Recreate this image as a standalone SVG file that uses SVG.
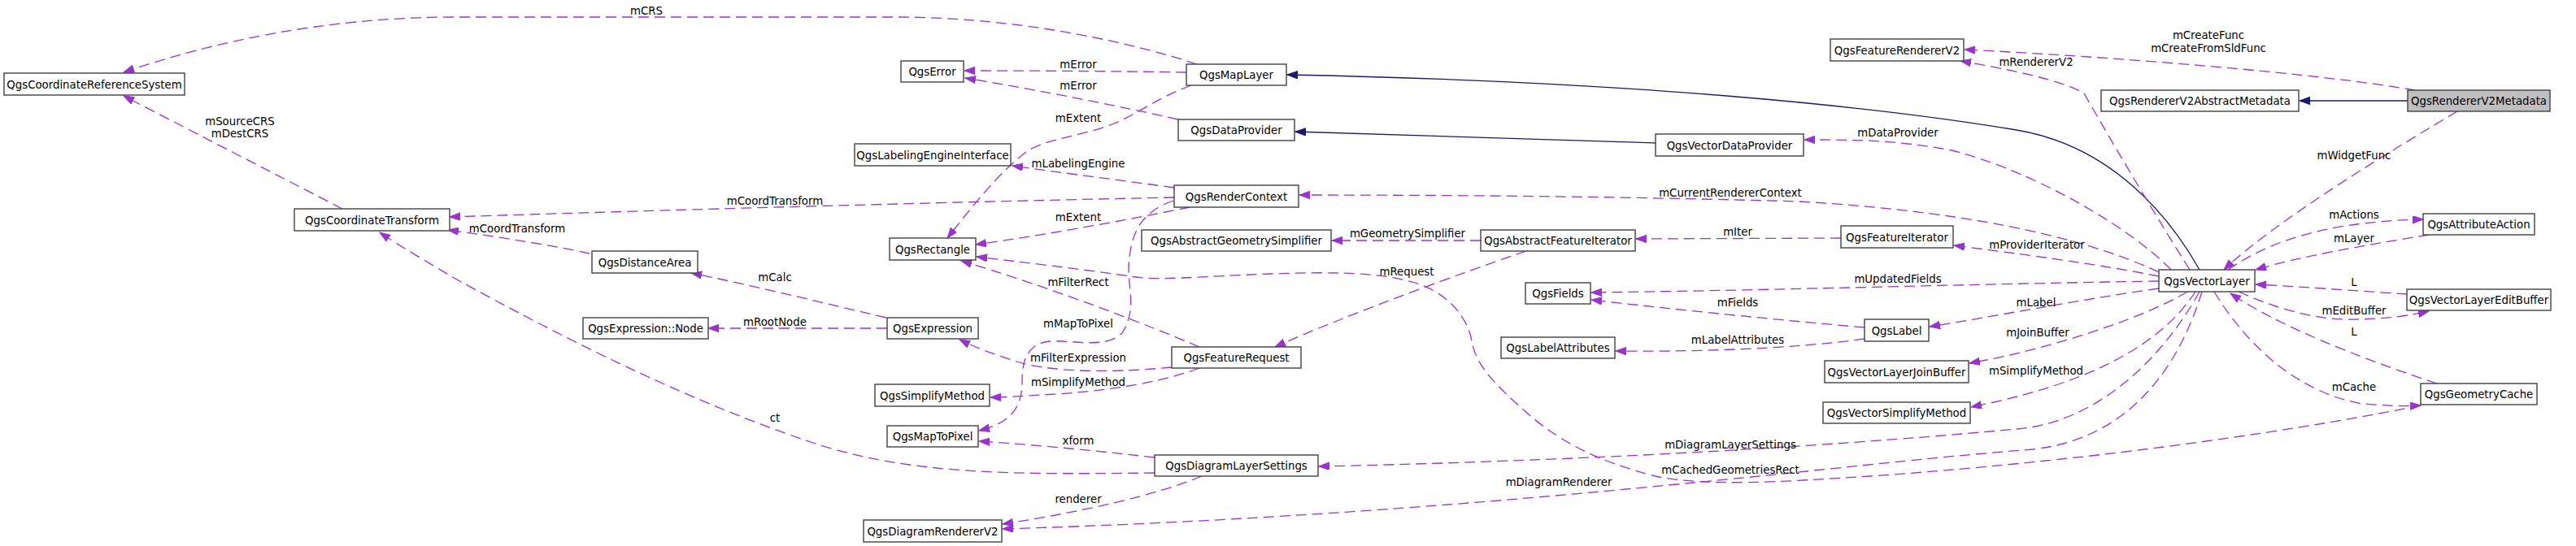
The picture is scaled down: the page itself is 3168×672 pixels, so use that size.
<svg xmlns="http://www.w3.org/2000/svg" width="3168" height="672" viewBox="0 0 3168 672">
<defs>
<marker id="ap" markerWidth="14" markerHeight="10" refX="13" refY="4.7" orient="auto" markerUnits="userSpaceOnUse"><path d="M0,0 L13,4.7 L0,9.4 z" fill="#9a32cd" stroke="#9a32cd" stroke-width="1"/></marker>
<marker id="an" markerWidth="14" markerHeight="10" refX="13" refY="4.7" orient="auto" markerUnits="userSpaceOnUse"><path d="M0,0 L13,4.7 L0,9.4 z" fill="#191970" stroke="#191970" stroke-width="1"/></marker>
<style>
.n rect{fill:#fff;stroke:#404040;stroke-width:1.4}
.n text,.l{font-family:"DejaVu Sans",Verdana,sans-serif;font-size:13.3px;fill:#000;text-anchor:middle}
.u{fill:none;stroke:#9a32cd;stroke-width:1.3;stroke-dasharray:13,7;marker-end:url(#ap)}
.i{fill:none;stroke:#191970;stroke-width:1.3;marker-end:url(#an)}
</style>
</defs>
<rect width="3168" height="672" fill="#fff"/>
<g id="edges">
<path class="u" d="M1472,79 C1400,55 1260,21 1100,21 L560,21 C400,21 260,52 152,89"/>
<path class="u" d="M421,257 L152,118"/>
<path class="u" d="M1459,89 C1400,88 1300,87 1186,87"/>
<path class="u" d="M1449,147 C1350,125 1260,108 1187,96"/>
<path class="u" d="M1465,105 C1420,122 1400,140 1370,152 C1330,168 1290,170 1265,185 C1230,210 1195,255 1165,293"/>
<path class="u" d="M1444,231 C1380,222 1300,212 1245,204"/>
<path class="u" d="M1444,243 C1200,248 900,256 553,267"/>
<path class="u" d="M1463,255 C1380,272 1280,290 1200,301"/>
<path class="u" d="M1443,247 C1400,262 1390,290 1388,330 C1388,360 1398,380 1380,410 C1360,430 1320,418 1290,420 C1262,424 1257,445 1257,470 C1257,500 1245,520 1204,530"/>
<path class="u" d="M1821,296 L1638,296"/>
<path class="u" d="M1877,309 C1800,335 1650,390 1568,427"/>
<path class="u" d="M1475,427 C1400,395 1280,350 1182,321"/>
<path class="u" d="M1441,452 C1380,458 1300,460 1250,445 C1220,435 1200,428 1180,418"/>
<path class="u" d="M1475,453 C1430,470 1370,480 1300,485 C1260,487 1240,489 1218,489"/>
<path class="u" d="M725,312 C670,300 600,290 551,283"/>
<path class="u" d="M1090,391 C1000,370 920,350 850,336"/>
<path class="u" d="M1091,404 L871,404"/>
<path class="u" d="M1420,582 C1250,584 1120,585 1000,545 C850,495 700,420 560,343 C530,325 495,305 467,286"/>
<path class="u" d="M1420,563 C1350,555 1280,548 1204,543"/>
<path class="u" d="M1478,586 C1420,610 1330,630 1233,645"/>
<path class="u" d="M2708,359 C2680,450 2620,540 2500,553 C2350,565 2250,578 2083,594 C1900,612 1600,640 1233,651"/>
<path class="u" d="M2705,359 C2660,440 2580,520 2480,528 C2300,545 2000,566 1622,574"/>
<path class="u" d="M2977,499 C2850,525 2600,565 2300,586 C2180,594 2100,598 2040,587 C1970,570 1920,545 1880,510 C1840,475 1815,450 1810,420 C1805,390 1780,360 1740,348 C1700,336 1650,334 1563,337 C1480,340 1420,346 1390,340 C1320,330 1260,323 1201,316"/>
<path class="u" d="M2655,346 C2400,350 2200,357 1957,360"/>
<path class="u" d="M2293,403 C2200,395 2050,380 1957,369"/>
<path class="u" d="M2655,355 C2550,370 2450,390 2373,402"/>
<path class="u" d="M2293,417 C2200,430 2080,433 1987,432"/>
<path class="u" d="M2690,359 C2640,390 2520,430 2422,447"/>
<path class="u" d="M2700,359 C2660,420 2580,470 2424,501"/>
<path class="i" d="M2705,332 C2670,270 2600,180 2480,160 C2300,130 2000,100 1583,92"/>
<path class="i" d="M2036,176 L1593,162"/>
<path class="i" d="M2961,124 L2828,124"/>
<path class="u" d="M2970,111 C2850,90 2600,70 2416,61"/>
<path class="u" d="M2693,332 C2660,280 2600,180 2563,115 C2540,100 2470,85 2411,75"/>
<path class="u" d="M3022,137 C2950,180 2800,270 2735,332"/>
<path class="u" d="M2740,332 C2800,290 2880,272 2980,270"/>
<path class="u" d="M2987,289 C2920,300 2830,315 2774,332"/>
<path class="u" d="M2670,332 C2620,280 2500,210 2400,185 C2330,172 2280,172 2219,172"/>
<path class="u" d="M2655,335 C2580,300 2450,262 2213,248 C2000,242 1800,240 1598,240"/>
<path class="u" d="M2655,340 C2580,325 2480,312 2403,302"/>
<path class="u" d="M2264,293 L2012,294"/>
<path class="u" d="M2960,362 C2900,358 2830,353 2774,350"/>
<path class="u" d="M2753,359 C2800,380 2850,395 2900,393 C2940,392 2965,388 2987,383"/>
<path class="u" d="M2997,472 C2900,440 2800,400 2743,361"/>
<path class="u" d="M2723,359 C2760,420 2820,480 2900,496 C2935,500 2955,500 2977,499"/>
</g>
<g id="edge-labels">
<text class="l" x="795" y="18">mCRS</text>
<text class="l" x="295" y="154">mSourceCRS</text>
<text class="l" x="295" y="169">mDestCRS</text>
<text class="l" x="1326" y="84">mError</text>
<text class="l" x="1326" y="110">mError</text>
<text class="l" x="1326" y="150">mExtent</text>
<text class="l" x="1326" y="206">mLabelingEngine</text>
<text class="l" x="953" y="252">mCoordTransform</text>
<text class="l" x="1326" y="272">mExtent</text>
<text class="l" x="636" y="286">mCoordTransform</text>
<text class="l" x="953" y="346">mCalc</text>
<text class="l" x="953" y="401">mRootNode</text>
<text class="l" x="1326" y="352">mFilterRect</text>
<text class="l" x="1326" y="403">mMapToPixel</text>
<text class="l" x="1326" y="445">mFilterExpression</text>
<text class="l" x="1326" y="475">mSimplifyMethod</text>
<text class="l" x="953" y="519">ct</text>
<text class="l" x="1326" y="547">xform</text>
<text class="l" x="1326" y="619">renderer</text>
<text class="l" x="1731" y="292">mGeometrySimplifier</text>
<text class="l" x="1730" y="339">mRequest</text>
<text class="l" x="2128" y="242">mCurrentRendererContext</text>
<text class="l" x="2504" y="81">mRendererV2</text>
<text class="l" x="2334" y="168">mDataProvider</text>
<text class="l" x="2137" y="290">mIter</text>
<text class="l" x="2505" y="306">mProviderIterator</text>
<text class="l" x="2716" y="48">mCreateFunc</text>
<text class="l" x="2716" y="64">mCreateFromSldFunc</text>
<text class="l" x="2895" y="196">mWidgetFunc</text>
<text class="l" x="2895" y="269">mActions</text>
<text class="l" x="2895" y="298">mLayer</text>
<text class="l" x="2895" y="352">L</text>
<text class="l" x="2895" y="387">mEditBuffer</text>
<text class="l" x="2895" y="413">L</text>
<text class="l" x="2895" y="481">mCache</text>
<text class="l" x="2334" y="348">mUpdatedFields</text>
<text class="l" x="2137" y="377">mFields</text>
<text class="l" x="2504" y="377">mLabel</text>
<text class="l" x="2137" y="423">mLabelAttributes</text>
<text class="l" x="2506" y="414">mJoinBuffer</text>
<text class="l" x="2504" y="461">mSimplifyMethod</text>
<text class="l" x="2128" y="552">mDiagramLayerSettings</text>
<text class="l" x="2128" y="583">mCachedGeometriesRect</text>
<text class="l" x="1917" y="598">mDiagramRenderer</text>
</g>
<g id="n-crs" class="n"><rect x="5" y="90" width="222" height="27"/><text x="116" y="108.5">QgsCoordinateReferenceSystem</text></g>
<g id="n-ct" class="n"><rect x="362" y="257" width="191" height="27"/><text x="457.5" y="275.5">QgsCoordinateTransform</text></g>
<g id="n-distancearea" class="n"><rect x="728" y="309" width="130" height="27"/><text x="793" y="327.5">QgsDistanceArea</text></g>
<g id="n-exprnode" class="n"><rect x="717" y="391" width="154" height="26"/><text x="794" y="409">QgsExpression::Node</text></g>
<g id="n-error" class="n"><rect x="1108" y="75" width="77" height="26"/><text x="1146.5" y="93">QgsError</text></g>
<g id="n-maplayer" class="n"><rect x="1459" y="79" width="123" height="26"/><text x="1520.5" y="97">QgsMapLayer</text></g>
<g id="n-dataprovider" class="n"><rect x="1449" y="147" width="143" height="26"/><text x="1520.5" y="165">QgsDataProvider</text></g>
<g id="n-labeling" class="n"><rect x="1051" y="177" width="192" height="27"/><text x="1147" y="195.5">QgsLabelingEngineInterface</text></g>
<g id="n-rendercontext" class="n"><rect x="1444" y="228" width="153" height="27"/><text x="1520.5" y="246.5">QgsRenderContext</text></g>
<g id="n-geomsimplifier" class="n"><rect x="1404" y="283" width="233" height="26"/><text x="1520.5" y="301">QgsAbstractGeometrySimplifier</text></g>
<g id="n-rectangle" class="n"><rect x="1094" y="293" width="106" height="27"/><text x="1147" y="311.5">QgsRectangle</text></g>
<g id="n-expression" class="n"><rect x="1091" y="391" width="112" height="26"/><text x="1147" y="409">QgsExpression</text></g>
<g id="n-simplifymethod" class="n"><rect x="1076" y="473" width="141" height="27"/><text x="1146.5" y="491.5">QgsSimplifyMethod</text></g>
<g id="n-maptopixel" class="n"><rect x="1091" y="524" width="112" height="26"/><text x="1147" y="542">QgsMapToPixel</text></g>
<g id="n-diagramrenderer" class="n"><rect x="1062" y="640" width="170" height="27"/><text x="1147" y="658.5">QgsDiagramRendererV2</text></g>
<g id="n-featurerequest" class="n"><rect x="1441" y="427" width="159" height="26"/><text x="1520.5" y="445">QgsFeatureRequest</text></g>
<g id="n-diagramlayersettings" class="n"><rect x="1420" y="560" width="201" height="26"/><text x="1520.5" y="578">QgsDiagramLayerSettings</text></g>
<g id="n-vectordataprovider" class="n"><rect x="2036" y="165" width="182" height="27"/><text x="2127" y="183.5">QgsVectorDataProvider</text></g>
<g id="n-abstractfeatureiterator" class="n"><rect x="1821" y="283" width="190" height="26"/><text x="1916" y="301">QgsAbstractFeatureIterator</text></g>
<g id="n-fields" class="n"><rect x="1876" y="348" width="80" height="26"/><text x="1916" y="366">QgsFields</text></g>
<g id="n-labelattributes" class="n"><rect x="1846" y="415" width="140" height="26"/><text x="1916" y="433">QgsLabelAttributes</text></g>
<g id="n-featurerenderer" class="n"><rect x="2251" y="48" width="164" height="27"/><text x="2333" y="66.5">QgsFeatureRendererV2</text></g>
<g id="n-featureiterator" class="n"><rect x="2264" y="278" width="138" height="27"/><text x="2333" y="296.5">QgsFeatureIterator</text></g>
<g id="n-label" class="n"><rect x="2293" y="393" width="79" height="27"/><text x="2332.5" y="411.5">QgsLabel</text></g>
<g id="n-joinbuffer" class="n"><rect x="2244" y="444" width="177" height="27"/><text x="2332.5" y="462.5">QgsVectorLayerJoinBuffer</text></g>
<g id="n-vectorsimplify" class="n"><rect x="2242" y="495" width="181" height="26"/><text x="2332.5" y="513">QgsVectorSimplifyMethod</text></g>
<g id="n-abstractmetadata" class="n"><rect x="2584" y="111" width="243" height="26"/><text x="2705.5" y="129">QgsRendererV2AbstractMetadata</text></g>
<g id="n-metadata" class="n"><rect x="2961" y="111" width="175" height="26" style="fill:#bfbfbf"/><text x="3048.5" y="129">QgsRendererV2Metadata</text></g>
<g id="n-vectorlayer" class="n"><rect x="2655" y="332" width="118" height="27"/><text x="2714" y="350.5">QgsVectorLayer</text></g>
<g id="n-attributeaction" class="n"><rect x="2980" y="263" width="137" height="26"/><text x="3048.5" y="281">QgsAttributeAction</text></g>
<g id="n-editbuffer" class="n"><rect x="2960" y="356" width="177" height="26"/><text x="3048.5" y="374">QgsVectorLayerEditBuffer</text></g>
<g id="n-geometrycache" class="n"><rect x="2977" y="472" width="143" height="26"/><text x="3048.5" y="490">QgsGeometryCache</text></g>
</svg>
